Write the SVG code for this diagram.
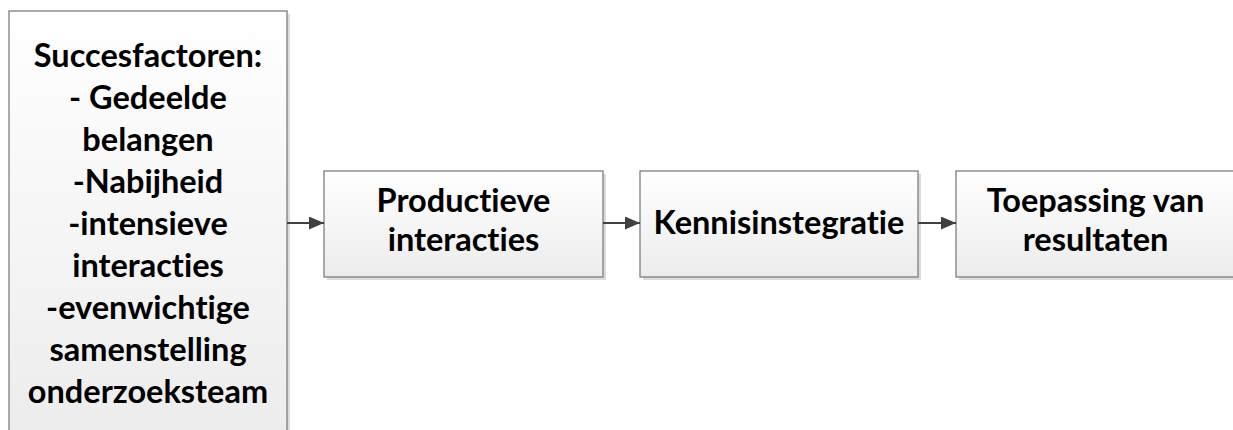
<svg xmlns="http://www.w3.org/2000/svg" width="1233" height="430" viewBox="0 0 1233 430">
<style>
.box{fill:url(#g);stroke:#7f7f7f;stroke-width:1.3}
.sh{fill:#dcdcdc}
.t{font-family:Lato,"Liberation Sans",sans-serif;font-weight:bold;font-size:32.5px;fill:#000;text-anchor:middle;font-variant-ligatures:none}
.c{stroke:#404040;stroke-width:2;fill:none;marker-end:url(#a)}
</style>
<defs>
<linearGradient id="g" x1="0" y1="0" x2="0" y2="1">
<stop offset="0" stop-color="#ffffff"/>
<stop offset="1" stop-color="#ececec"/>
</linearGradient>
<marker id="a" markerWidth="15" markerHeight="13" refX="15" refY="6.5" orient="auto" markerUnits="userSpaceOnUse">
<path d="M0,0 L15,6.5 L0,13 z" fill="#404040"/>
</marker>
</defs>
<g id="n1">
<rect class="sh" x="12" y="14" width="278" height="430"/>
<rect class="box" x="9" y="11" width="278" height="430"/>
<text class="t" x="148" y="67">Succesfactoren:</text>
<text class="t" x="148" y="109">- Gedeelde</text>
<text class="t" x="148" y="151">belangen</text>
<text class="t" x="148" y="193">-Nabijheid</text>
<text class="t" x="148" y="235">-intensieve</text>
<text class="t" x="148" y="277">interacties</text>
<text class="t" x="148" y="319">-evenwichtige</text>
<text class="t" x="148" y="361">samenstelling</text>
<text class="t" x="148" y="403">onderzoeksteam</text>
</g>
<g id="n2">
<rect class="sh" x="327" y="174" width="279" height="106"/>
<rect class="box" x="324" y="171" width="279" height="106"/>
<text class="t" x="463.5" y="212">Productieve</text>
<text class="t" x="463.5" y="251">interacties</text>
</g>
<g id="n3">
<rect class="sh" x="643" y="174" width="278" height="106"/>
<rect class="box" x="640" y="171" width="278" height="106"/>
<text class="t" x="779" y="234">Kennisinstegratie</text>
</g>
<g id="n4">
<rect class="sh" x="959" y="174" width="279" height="106"/>
<rect class="box" x="956" y="171" width="279" height="106"/>
<text class="t" x="1095.5" y="212">Toepassing van</text>
<text class="t" x="1095.5" y="251">resultaten</text>
</g>
<g id="connectors">
<line class="c" x1="287" y1="223" x2="324" y2="223"/>
<line class="c" x1="603" y1="223" x2="640" y2="223"/>
<line class="c" x1="918" y1="223" x2="956" y2="223"/>
</g>
</svg>
